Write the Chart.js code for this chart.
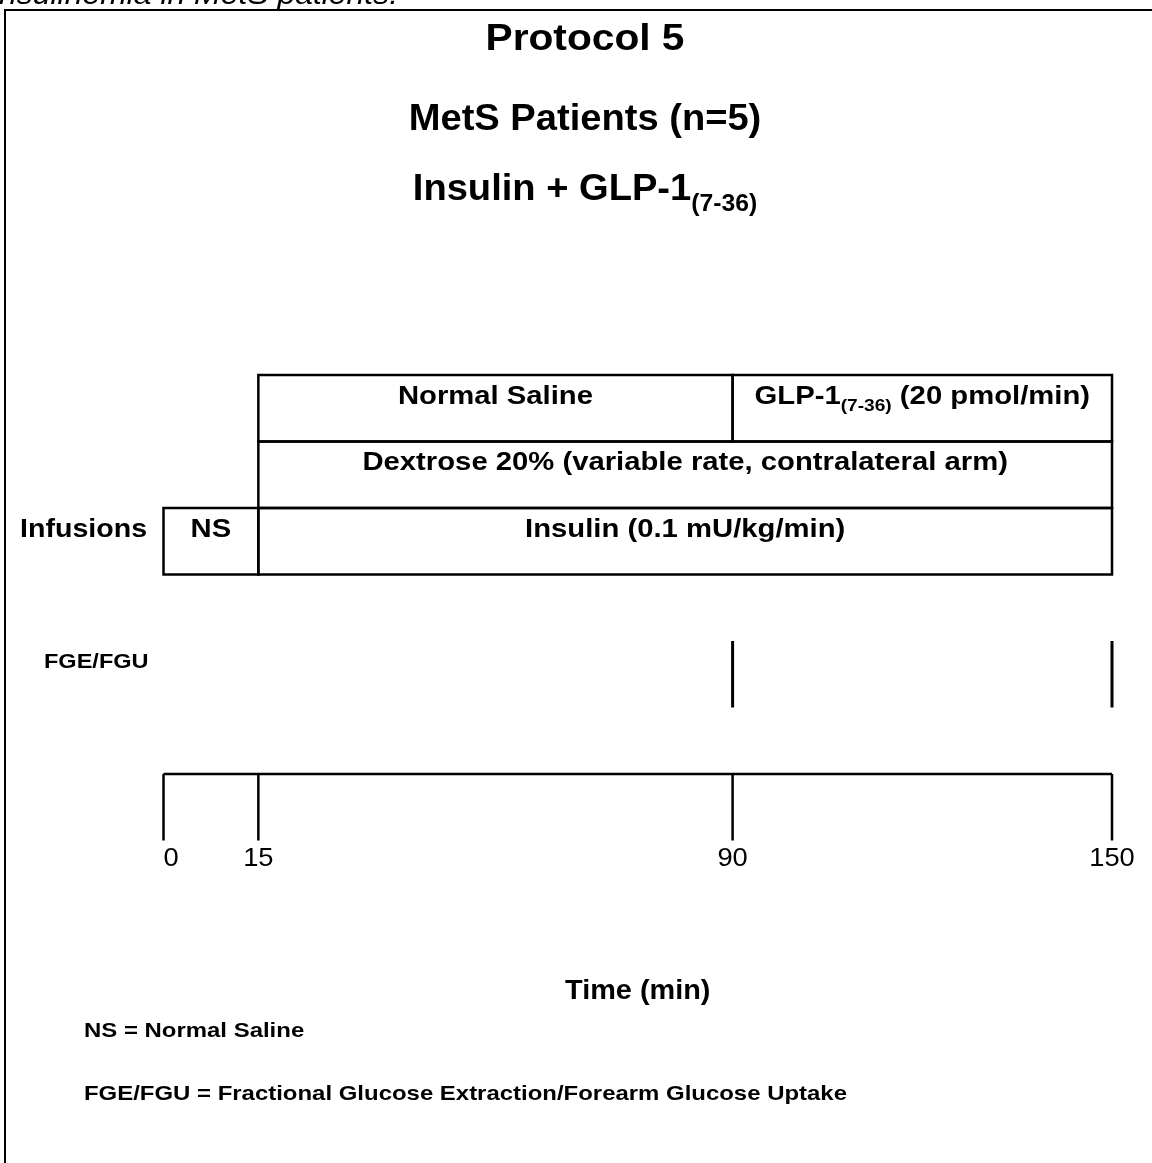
<!DOCTYPE html>
<html>
<head>
<meta charset="utf-8">
<script src="https://cdn.jsdelivr.net/npm/chart.js@4.4.1/dist/chart.umd.min.js"></script>
<style>
  html, body { margin: 0; padding: 0; background: #fff; }
  #wrap { position: relative; width: 1152px; height: 1163px; overflow: hidden; background: #fff; }
  #frame { position: absolute; left: 4px; top: 9px; width: 1300px; height: 1300px;
           border-left: 2.5px solid #000; border-top: 2.5px solid #000; }
  #c { position: absolute; left: 0; top: 0; }
</style>
</head>
<body>
<div id="wrap">
  <div id="frame"></div>
  <canvas id="c" width="1152" height="1163"></canvas>
</div>
<script>
// ---------------- data ----------------
const rowLabels   = ['Study infusion', 'Dextrose', 'Insulin', 'gap', 'FGE/FGU', 'gap ', 'Time'];
const boxLabels   = ['Normal Saline', 'GLP-1_{(7-36)} (20 pmol/min)',
                     'Dextrose 20% (variable rate, contralateral arm)',
                     'NS', 'Insulin (0.1 mU/kg/min)'];
const boxStart    = [15, 90, 15, 0, 15];
const boxEnd      = [90, 150, 150, 15, 150];
const boxRow      = [0, 0, 1, 2, 2];
const sampleTimes = [90, 150];          // FGE/FGU sampling
const timeTicks   = [0, 15, 90, 150];   // minutes
const titleLines  = ['Protocol 5', 'MetS Patients (n=5)', 'Insulin + GLP-1_{(7-36)}'];
const infusionLabel = 'Infusions';
const sampleLabel   = 'FGE/FGU';
const axisTitle     = 'Time (min)';
const footnotes     = ['NS = Normal Saline',
                       'FGE/FGU = Fractional Glucose Extraction/Forearm Glucose Uptake'];
const captionText   = 'during hyperinsulinemia in MetS patients.';

// ---------------- helpers ----------------
const FONT = '"Liberation Sans", Arial, Helvetica, sans-serif';
function parseRich(text) {
  const parts = [];
  const re = /_\{([^}]*)\}/g;
  let last = 0, m;
  while ((m = re.exec(text)) !== null) {
    if (m.index > last) parts.push({ t: text.slice(last, m.index), sub: false });
    parts.push({ t: m[1], sub: true });
    last = re.lastIndex;
  }
  if (last < text.length) parts.push({ t: text.slice(last), sub: false });
  return parts;
}
// draw text with optional subscripts; align: 'center' | 'left' | 'right'
function drawRich(ctx, text, x, baseline, size, weight, sx, align, style) {
  const parts = parseRich(text);
  const subSize = Math.round(size * 0.64);
  const fMain = `${style || 'normal'} ${weight} ${size}px ${FONT}`;
  const fSub  = `${style || 'normal'} ${weight} ${subSize}px ${FONT}`;
  let total = 0;
  parts.forEach(p => { ctx.font = p.sub ? fSub : fMain; p.w = ctx.measureText(p.t).width; total += p.w; });
  total *= sx;
  let start = x;
  if (align === 'center') start = x - total / 2;
  else if (align === 'right') start = x - total;
  ctx.save();
  ctx.translate(start, baseline);
  ctx.scale(sx, 1);
  ctx.fillStyle = '#000';
  ctx.textAlign = 'left';
  ctx.textBaseline = 'alphabetic';
  let cx = 0;
  parts.forEach(p => {
    ctx.font = p.sub ? fSub : fMain;
    ctx.fillText(p.t, cx, p.sub ? size * 0.3 : 0);
    cx += p.w;
  });
  ctx.restore();
}

// ---------------- plugin drawing the protocol annotations ----------------
const protocolPlugin = {
  id: 'protocol',
  afterDatasetsDraw(chart) {
    const ctx = chart.ctx;
    const xS = chart.scales.x, yS = chart.scales.y;
    const rowH = Math.abs(yS.getPixelForValue(1) - yS.getPixelForValue(0));
    const rowTop = i => yS.getPixelForValue(i) - rowH / 2;

    // box outlines + labels
    const meta = chart.getDatasetMeta(0);
    ctx.save();
    ctx.strokeStyle = '#000';
    ctx.lineWidth = 2.5;
    meta.data.forEach(bar => {
      const p = bar.getProps(['x', 'y', 'base', 'height'], true);
      const left = Math.min(p.x, p.base), w = Math.abs(p.x - p.base);
      ctx.strokeRect(left, p.y - p.height / 2, w, p.height);
    });
    ctx.restore();
    meta.data.forEach((bar, i) => {
      const p = bar.getProps(['x', 'y', 'base', 'height'], true);
      drawRich(ctx, boxLabels[i], (p.x + p.base) / 2, p.y - p.height / 2 + 28.5, 26, 'bold', 1.125, 'center');
    });

    // row label for infusions
    drawRich(ctx, infusionLabel, 20, rowTop(2) + 28.5, 26, 'bold', 1.1, 'left');

    // FGE/FGU sampling marks
    const sRow = rowLabels.indexOf('FGE/FGU');
    ctx.save();
    ctx.strokeStyle = '#000';
    ctx.lineWidth = 3;
    sampleTimes.forEach(t => {
      const x = xS.getPixelForValue(t);
      ctx.beginPath();
      ctx.moveTo(x, rowTop(sRow));
      ctx.lineTo(x, rowTop(sRow) + rowH);
      ctx.stroke();
    });
    ctx.restore();
    drawRich(ctx, sampleLabel, 44, rowTop(sRow) + 27, 21, 'bold', 1.12, 'left');

    // time line with ticks
    const tRow = rowLabels.indexOf('Time');
    const tTop = rowTop(tRow), tBot = tTop + rowH;
    ctx.save();
    ctx.strokeStyle = '#000';
    ctx.lineWidth = 2.5;
    ctx.beginPath();
    ctx.moveTo(xS.getPixelForValue(timeTicks[0]), tTop);
    ctx.lineTo(xS.getPixelForValue(timeTicks[timeTicks.length - 1]), tTop);
    timeTicks.forEach(t => {
      const x = xS.getPixelForValue(t);
      ctx.moveTo(x, tTop);
      ctx.lineTo(x, tBot);
    });
    ctx.stroke();
    ctx.restore();
    timeTicks.forEach((t, i) => {
      const x = xS.getPixelForValue(t);
      if (i === 0) drawRich(ctx, String(t), x, tBot + 25.5, 26, 'normal', 1.05, 'left');
      else drawRich(ctx, String(t), x, tBot + 25.5, 26, 'normal', 1.05, 'center');
    });
    const midX = (xS.getPixelForValue(timeTicks[0]) + xS.getPixelForValue(timeTicks[timeTicks.length - 1])) / 2;
    drawRich(ctx, axisTitle, midX, tBot + 158, 28, 'bold', 1.03, 'center');
  },
  afterDraw(chart) {
    const ctx = chart.ctx;
    // caption line above frame (clipped by the page top)
    drawRich(ctx, captionText, 398, 4, 29, 'normal', 1.1, 'right', 'italic');
    // titles
    const titleBase = [50, 130, 200];
    titleLines.forEach((t, i) => drawRich(ctx, t, 585, titleBase[i], 37, 'bold', i === 0 ? 1.1 : 1.03, 'center'));
    // footnotes
    drawRich(ctx, footnotes[0], 84, 1037, 21, 'bold', 1.14, 'left');
    drawRich(ctx, footnotes[1], 84, 1100, 21, 'bold', 1.14, 'left');
  }
};

// ---------------- chart ----------------
const boxData = boxStart.map((s, i) => ({ x: [s, boxEnd[i]], y: rowLabels[boxRow[i]] }));

new Chart(document.getElementById('c'), {
  type: 'bar',
  data: {
    labels: rowLabels,
    datasets: [{
      label: 'Infusions',
      data: boxData,
      backgroundColor: '#ffffff',
      borderWidth: 0,
      categoryPercentage: 1,
      barPercentage: 1
    }]
  },
  options: {
    indexAxis: 'y',
    responsive: false,
    animation: false,
    layout: { padding: { left: 163.5, right: 40, top: 375, bottom: 322.5 } },
    scales: {
      x: { type: 'linear', min: 0, max: 150, display: false },
      y: { type: 'category', display: false, offset: true }
    },
    plugins: {
      legend: { display: false },
      title: { display: false },
      tooltip: { enabled: false }
    }
  },
  plugins: [protocolPlugin]
});
</script>
</body>
</html>
